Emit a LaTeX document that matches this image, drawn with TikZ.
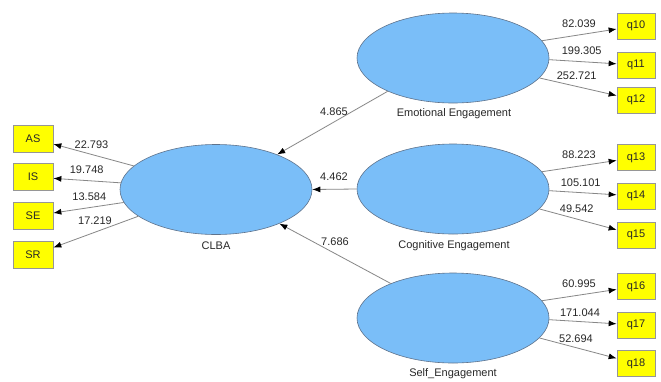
\documentclass[tikz,border=0pt]{standalone}
\usepackage{fontspec}
\setmainfont{Liberation Sans}
\usetikzlibrary{shapes.geometric,arrows.meta}

\definecolor{latentfill}{RGB}{122,190,248}
\definecolor{latentline}{RGB}{95,115,140}
\definecolor{itemfill}{RGB}{255,255,0}
\definecolor{itemline}{RGB}{150,150,150}
\definecolor{pathline}{RGB}{135,135,135}
\definecolor{txt}{RGB}{40,40,40}

\tikzset{
  latent/.style={ellipse, draw=latentline, line width=0.6pt, fill=latentfill,
    minimum width=192pt, minimum height=90pt, inner sep=0pt},
  item/.style={rectangle, draw=itemline, line width=0.7pt, fill=itemfill,
    minimum width=38pt, minimum height=26pt, inner sep=0pt, text=txt,
    font=\fontsize{11}{13}\selectfont},
  itemL/.style={item, minimum width=40pt, minimum height=27pt},
  arrowpath/.style={draw=pathline, line width=0.8pt,
    -{Latex[length=8pt,width=6pt,black]}},
  num/.style={anchor=base, inner sep=0pt, text=txt,
    font=\fontsize{11}{13}\selectfont},
  lvlabel/.style={num}
}

\begin{document}
\begin{tikzpicture}[x=1pt,y=-1pt]
  \useasboundingbox[fill=white] (0,0) rectangle (661,381);

  % latent variables
  \node[latent] (clba) at (216,189.5) {};
  \node[latent] (emo)  at (453,58)    {};
  \node[latent] (cog)  at (453,189)   {};
  \node[latent] (self) at (453,318)   {};

  \node[lvlabel] (clbat) at (216,249.3) {CLBA};
  \node[lvlabel] (emot)  at (454,116.2) {Emotional Engagement};
  \node[lvlabel] (cogt)  at (454,248)   {Cognitive Engagement};
  \node[lvlabel] (selft) at (453,376)   {Self\_Engagement};

  % indicators of CLBA
  \node[itemL] (as) at (33,138.5) {AS};
  \node[itemL] (is) at (33,177)   {IS};
  \node[itemL] (se) at (33,216)   {SE};
  \node[itemL] (sr) at (33,255)   {SR};

  % indicators of the engagement constructs
  \node[item] (q10) at (636,26)    {q10};
  \node[item] (q11) at (636,65)    {q11};
  \node[item] (q12) at (636,100)   {q12};
  \node[item] (q13) at (636,157.5) {q13};
  \node[item] (q14) at (636,196)   {q14};
  \node[item] (q15) at (636,235)   {q15};
  \node[item] (q16) at (636,286.5) {q16};
  \node[item] (q17) at (636,325)   {q17};
  \node[item] (q18) at (636,363.5) {q18};

  % structural paths
  \draw[arrowpath] (emo.207)  -- (clba);
  \draw[arrowpath] (cog.west) -- (clba.east);
  \draw[arrowpath] (self.151) -- (clba);

  % outer model: CLBA
  \draw[arrowpath] (clba.164) -- (as);
  \draw[arrowpath] (clba.176) -- (is);
  \draw[arrowpath] (clba.188) -- (se);
  \draw[arrowpath] (clba.199) -- (sr);

  % outer model: engagement constructs
  \foreach \lv/\a/\b/\c in {emo/q10/q11/q12, cog/q13/q14/q15, self/q16/q17/q18}{
    \draw[arrowpath] (\lv.11)  -- (\a);
    \draw[arrowpath] (\lv.359) -- (\b);
    \draw[arrowpath] (\lv.347) -- (\c);
  }

  % path coefficients (t-values)
  \node[num] (t1) at (91.5,148.3) {22.793};
  \node[num] (t2) at (86.7,173)   {19.748};
  \node[num] (t3) at (89.3,200)   {13.584};
  \node[num] (t4) at (95,224)     {17.219};

  \node[num] (t5) at (334,115)   {4.865};
  \node[num] (t6) at (334,180.7) {4.462};
  \node[num] (t7) at (335,245)   {7.686};

  \node[num] (t8)  at (579,27.3)   {82.039};
  \node[num] (t9)  at (581.7,54)   {199.305};
  \node[num] (t10) at (576.7,79)   {252.721};
  \node[num] (t11) at (579,158.3)  {88.223};
  \node[num] (t12) at (580.7,186)  {105.101};
  \node[num] (t13) at (576.7,212.7){49.542};
  \node[num] (t14) at (579,287.3)  {60.995};
  \node[num] (t15) at (580,316)    {171.044};
  \node[num] (t16) at (576,342.7)  {52.694};
\end{tikzpicture}
\end{document}
